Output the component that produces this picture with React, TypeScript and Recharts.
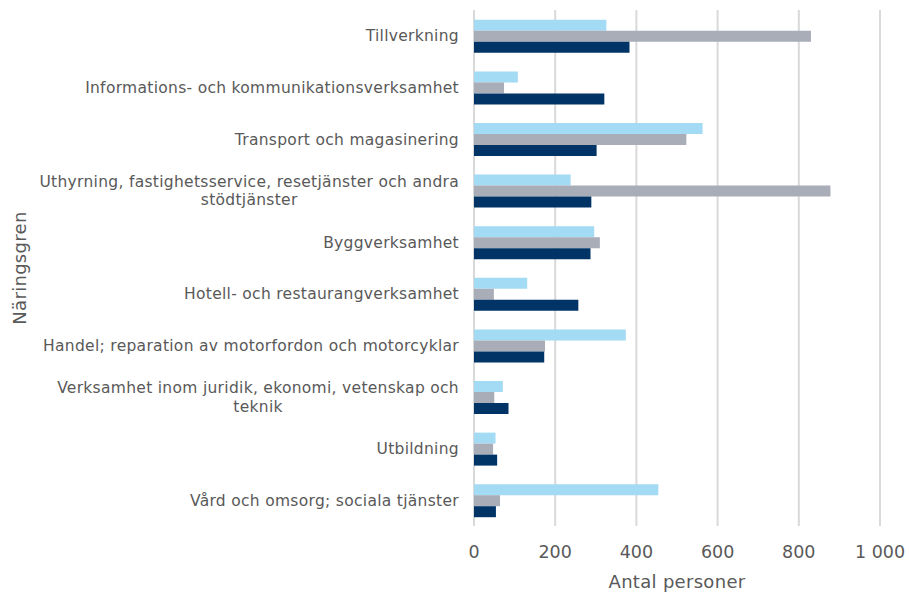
import { Bar, BarChart, CartesianGrid, XAxis, YAxis } from "recharts"

const categories = [
  "Tillverkning",
  "Informations- och kommunikationsverksamhet",
  "Transport och magasinering",
  "Uthyrning, fastighetsservice, resetjänster och andra|stödtjänster",
  "Byggverksamhet",
  "Hotell- och restaurangverksamhet",
  "Handel; reparation av motorfordon och motorcyklar",
  "Verksamhet inom juridik, ekonomi, vetenskap och|teknik",
  "Utbildning",
  "Vård och omsorg; sociala tjänster",
]

const lightValues = [326, 108, 563, 238, 296, 131, 374, 71, 53, 454]
const grayValues = [830, 74, 523, 878, 310, 49, 175, 50, 47, 64]
const navyValues = [383, 321, 302, 289, 287, 257, 173, 85, 57, 54]

const xTicks = [0, 200, 400, 600, 800, 1000]

const data = categories.map((name, i) => ({
  name,
  light: lightValues[i],
  gray: grayValues[i],
  navy: navyValues[i],
}))

const FONT = "DejaVu Sans, Verdana, sans-serif"
const TEXT = "#595959"
const LABEL_SIZE = 15.5
const LABEL_SPACING = 0.3

let canvas: HTMLCanvasElement | null = null
function measure(text: string) {
  if (!canvas) canvas = document.createElement("canvas")
  const ctx: any = canvas.getContext("2d")
  if (!ctx) return text.length * LABEL_SIZE * 0.6
  ctx.font = `${LABEL_SIZE}px "DejaVu Sans"`
  ctx.letterSpacing = `${LABEL_SPACING}px`
  return ctx.measureText(text).width
}

function CategoryTick(props: any) {
  const { x, y, payload } = props
  const lines = String(payload.value).split("|")
  const common = {
    fill: TEXT,
    fontSize: LABEL_SIZE,
    fontFamily: FONT,
    letterSpacing: LABEL_SPACING,
  }
  if (lines.length === 1) {
    return (
      <text x={x} y={y} dy="0.36em" textAnchor="end" {...common}>
        {lines[0]}
      </text>
    )
  }
  const w = measure(lines[0])
  const cx = x - w / 2
  const lh = 18.5
  return (
    <text textAnchor="middle" {...common}>
      {lines.map((l, i) => (
        <tspan key={i} x={cx} y={y + (i - (lines.length - 1) / 2) * lh} dy="0.36em">
          {l}
        </tspan>
      ))}
    </text>
  )
}

const formatNumber = (v: number) =>
  v >= 1000 ? `${Math.floor(v / 1000)} ${String(v % 1000).padStart(3, "0")}` : String(v)

export default function App() {
  return (
    <div style={{ position: "absolute", left: 0, top: 0, background: "#fff" }}>
      <BarChart
        width={909}
        height={592}
        data={data}
        layout="vertical"
        margin={{ top: 10, right: 29, bottom: 6, left: 0 }}
        barCategoryGap="19%"
        barGap={0}
      >
        <CartesianGrid horizontal={false} stroke="#d9d9d9" strokeWidth={2} />
        <XAxis
          type="number"
          domain={[0, 1000]}
          ticks={xTicks}
          tickFormatter={formatNumber}
          axisLine={false}
          tickLine={false}
          tickMargin={14}
          height={60}
          tick={{ fill: TEXT, fontSize: 17.5, fontFamily: FONT }}
          label={{
            value: "Antal personer",
            position: "insideBottom",
            offset: -2,
            fill: TEXT,
            fontSize: 18,
            fontFamily: FONT,
            letterSpacing: 0.3,
          }}
        />
        <YAxis
          type="category"
          dataKey="name"
          width={474}
          axisLine={false}
          tickLine={false}
          tickMargin={9}
          interval={0}
          tick={<CategoryTick />}
          label={{
            value: "Näringsgren",
            angle: -90,
            position: "insideLeft",
            offset: 20,
            fill: TEXT,
            fontSize: 18,
            fontFamily: FONT,
            letterSpacing: 0.3,
            style: { textAnchor: "middle" },
          }}
        />
        <Bar dataKey="light" fill="#a3daf4" isAnimationActive={false} />
        <Bar dataKey="gray" fill="#a9adb8" isAnimationActive={false} />
        <Bar dataKey="navy" fill="#003466" isAnimationActive={false} />
      </BarChart>
    </div>
  )
}
